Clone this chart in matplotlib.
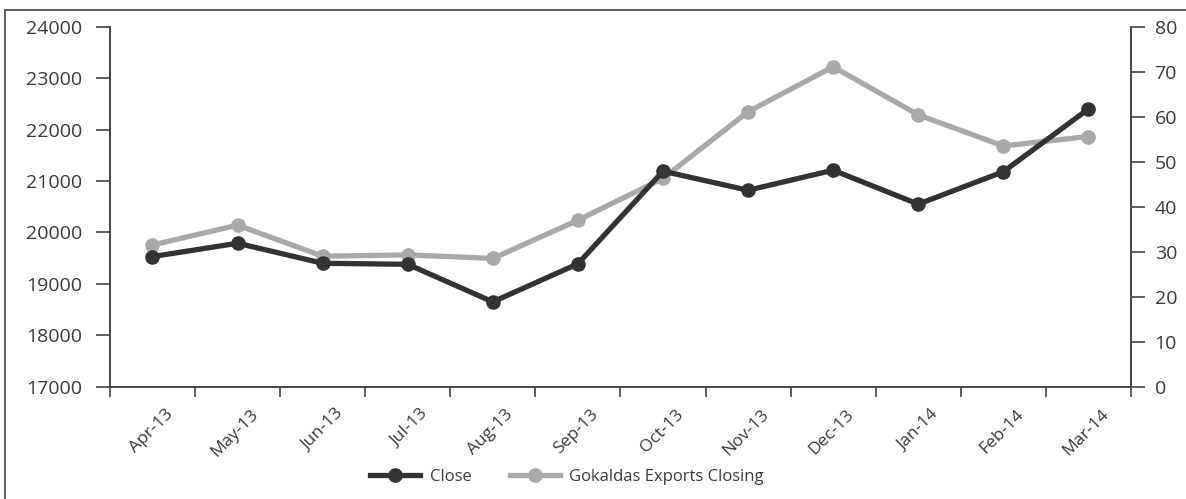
import matplotlib
matplotlib.use("Agg")
import matplotlib.pyplot as plt
from matplotlib.patches import Rectangle
from matplotlib.transforms import offset_copy

plt.rcParams["font.family"] = ["Open Sans", "DejaVu Sans"]

# --- monthly data, Apr-13 .. Mar-14 ------------------------------------------------------------ #
months = ["Apr-13", "May-13", "Jun-13", "Jul-13", "Aug-13", "Sep-13",
          "Oct-13", "Nov-13", "Dec-13", "Jan-14", "Feb-14", "Mar-14"]
close = [19530, 19790, 19400, 19380, 18650, 19390,
         21190, 20820, 21210, 20550, 21180, 22400]
gokaldas = [31.5, 35.9, 29.0, 29.3, 28.5, 37.0,
            46.3, 61.1, 71.1, 60.4, 53.5, 55.6]

DARK = "#333333"
LIGHT = "#a9a9a9"
AXIS = "#444444"
TXT = "#3a3a3a"

fig = plt.figure(figsize=(11.86, 4.99), dpi=100)
ax = fig.add_axes([0.0927, 0.225, 0.8609, 0.7215])
ax2 = ax.twinx()

x = list(range(len(months)))
l1, = ax.plot(x, close, "-o", color=DARK, lw=3.8, ms=9.5, label="Close", zorder=3)
l2, = ax2.plot(x, gokaldas, "-o", color=LIGHT, lw=3.8, ms=9.5,
               label="Gokaldas Exports Closing", zorder=2)
ax.set_zorder(ax2.get_zorder() + 1)
ax.patch.set_visible(False)

ax.set_xlim(-0.5, len(months) - 0.5)
ax.set_ylim(17000, 24000)
ax2.set_ylim(0, 80)
ax.set_yticks(range(17000, 24001, 1000))
ax2.set_yticks(range(0, 81, 10))

# category boundaries get the tick marks; labels sit under the points
ax.set_xticks([i - 0.5 for i in range(len(months) + 1)])
ax.set_xticklabels([])
ax.tick_params(axis="x", length=7, width=1.2, color=AXIS)
offs = offset_copy(ax.get_xaxis_transform(), fig=fig, x=13, y=-18, units="points")
for xi, m in zip(x, months):
    ax.text(xi, 0, m, transform=offs, rotation=45, ha="right", va="center",
            rotation_mode="anchor", fontsize=12.5, color=TXT)

ax.tick_params(axis="y", length=10, width=1.2, color=AXIS, pad=10, labelsize=14, labelcolor=TXT)
ax2.tick_params(axis="y", length=10, width=1.2, color=AXIS, pad=7, labelsize=14, labelcolor=TXT)

for a in (ax, ax2):
    a.spines["top"].set_visible(False)
    for s in ("left", "right", "bottom"):
        a.spines[s].set_color(AXIS)
        a.spines[s].set_linewidth(1.2)

fig.legend(handles=[l1, l2], loc="center", bbox_to_anchor=(0.478, 0.044), ncol=2,
           frameon=False, fontsize=12, handlelength=3.0, handletextpad=0.55,
           columnspacing=2.3, labelcolor=TXT)

# thin frame around the whole chart
fig.patches.append(Rectangle((0.0042, -0.01), 1.0, 0.99, transform=fig.transFigure,
                             fill=False, edgecolor="#555555", lw=1.3))

fig.savefig("out.png", dpi=100)
